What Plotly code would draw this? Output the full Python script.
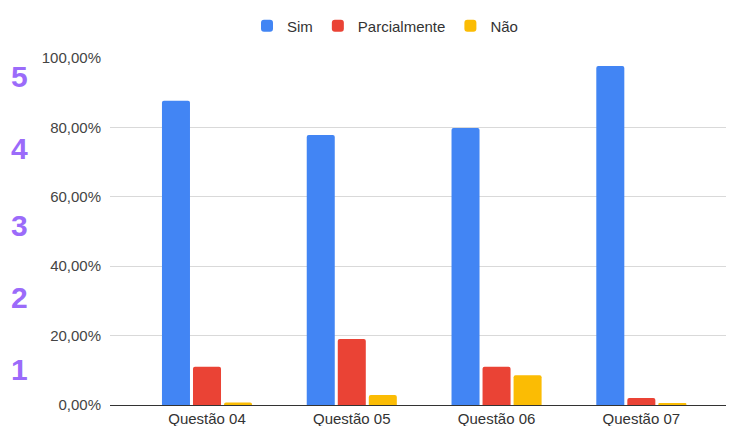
import plotly.graph_objects as go

categories = ["Questão 04", "Questão 05", "Questão 06", "Questão 07"]
sim = [0.877, 0.778, 0.798, 0.977]
parcialmente = [0.110, 0.190, 0.110, 0.020]
nao = [0.007, 0.029, 0.086, 0.003]
y_ticks = [0, 0.2, 0.4, 0.6, 0.8, 1.0]
side_labels = ["5", "4", "3", "2", "1"]

# page body has an 8px margin; figure is sized so that it fills the window
OFF = 8
W, H = 734 - OFF, 426 - OFF
L, R, T, B = 110 - OFF, 0, 58 - OFF, 21
pw = W - L - R
ph = H - T - B
FONT = "Liberation Sans, Arial"

fig = go.Figure()
series = [("Sim", sim, "#4285F4"), ("Parcialmente", parcialmente, "#EA4335"), ("Não", nao, "#FBBC04")]
for name, vals, col in series:
    fig.add_trace(go.Bar(x=categories, y=vals, name=name, marker_color=col,
                         marker_line_width=0))

# side purple labels (page pixel positions)
side_y = [76, 148, 225, 297, 369]
for lab, py in zip(side_labels, side_y):
    fig.add_annotation(text=lab, xref="paper", yref="paper",
                       x=(19 - OFF - L) / pw, y=(H - B - (py - OFF)) / ph,
                       xanchor="center", yanchor="middle", showarrow=False,
                       font=dict(family=FONT, size=30, color="#9B6BFA", weight="bold"))

fig.update_layout(
    width=W, height=H,
    margin=dict(l=L, r=R, t=T, b=B, pad=0, autoexpand=False),
    paper_bgcolor="white", plot_bgcolor="white",
    barmode="group", bargap=0.357, bargroupgap=0.097, barcornerradius=2,
    separators=",.",
    font=dict(family=FONT, size=15, color="#444444"),
    legend=dict(orientation="h", xref="container", yref="container",
                x=(385 - OFF) / W, xanchor="center", y=(H - (26 - OFF)) / H, yanchor="middle",
                font=dict(family=FONT, size=15, color="#333333"),
                bgcolor="rgba(0,0,0,0)"),
    xaxis=dict(range=[-0.67, 3.64], showgrid=False, ticks="", showline=False,
               automargin=False, ticklabelstandoff=3,
               tickfont=dict(family=FONT, size=15, color="#333333"), fixedrange=True),
    yaxis=dict(range=[0, 1.0], tickvals=y_ticks, tickformat=".2%", showgrid=True,
               automargin=False,
               gridcolor="#D9D9D9", gridwidth=1, zeroline=True, zerolinecolor="#333333",
               zerolinewidth=1, showline=False, ticks="", ticklabelstandoff=8,
               tickfont=dict(family=FONT, size=15, color="#444444"), fixedrange=True),
    showlegend=True,
)

fig.write_html("out.html")
